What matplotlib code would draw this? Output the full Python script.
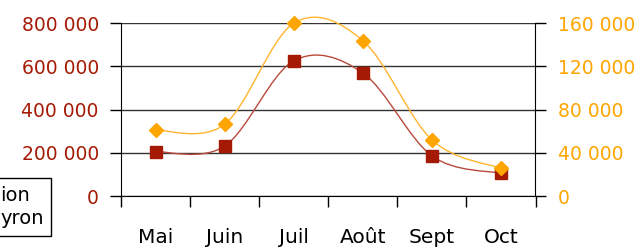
import matplotlib.pyplot as plt
import numpy as np
from matplotlib.path import Path
from matplotlib.patches import PathPatch
from matplotlib.ticker import FuncFormatter

months = ['Mai', 'Juin', 'Juil', 'Août', 'Sept', 'Oct']
left_values = [205000, 231000, 626000, 570000, 186000, 105000]
right_values = [61000, 66500, 160000, 144000, 52000, 25700]
left_ticks = [0, 200000, 400000, 600000, 800000]
right_ticks = [0, 40000, 80000, 120000, 160000]

red = '#A51A05'
red_line = '#B84A3C'
orange = '#FFA500'
orange_line = '#FFB52E'

plt.rcParams['font.family'] = 'DejaVu Sans'


def smooth_path(xs, ys):
    # catmull-rom style curve through the points, as bezier segments
    pts = np.column_stack([xs, ys]).astype(float)
    n = len(pts)
    verts = [pts[0]]
    codes = [Path.MOVETO]
    for i in range(n - 1):
        p0 = pts[max(i - 1, 0)]
        p1 = pts[i]
        p2 = pts[i + 1]
        p3 = pts[min(i + 2, n - 1)]
        verts += [p1 + (p2 - p0) / 6, p2 - (p3 - p1) / 6, p2]
        codes += [Path.CURVE4] * 3
    return Path(verts, codes)


def spaced(v, pos):
    return f"{int(v):,}".replace(",", " ")


fig = plt.figure(figsize=(6.42, 2.48), dpi=100)
ax = fig.add_axes([121 / 642, 1 - 196 / 248, (535.5 - 121) / 642, (196 - 23.3) / 248])
ax2 = ax.twinx()

x = np.arange(len(months))
ax.set_xlim(-0.5, len(months) - 0.5)
ax.set_ylim(0, 800000)
ax2.set_ylim(0, 160000)

ax.add_patch(PathPatch(smooth_path(x, left_values), facecolor='none',
                       edgecolor=red_line, lw=1, clip_on=False))
ax.plot(x, left_values, linestyle='none', marker='s', markersize=8, color=red,
        clip_on=False)

ax2.add_patch(PathPatch(smooth_path(x, right_values), facecolor='none',
                        edgecolor=orange_line, lw=1, clip_on=False))
ax2.plot(x, right_values, linestyle='none', marker='D', markersize=7.5, color=orange,
         clip_on=False)

ax.set_yticks(left_ticks)
ax.yaxis.set_major_formatter(FuncFormatter(spaced))
ax2.set_yticks(right_ticks)
ax2.yaxis.set_major_formatter(FuncFormatter(spaced))

ax.set_xticks(np.arange(-0.5, len(months), 1))
ax.set_xticklabels([])
ax.set_xticks(x, minor=True)
ax.set_xticklabels(months, minor=True)
ax.tick_params(axis='x', which='major', direction='out', length=8, width=1)
ax.tick_params(axis='x', which='minor', length=0, pad=23, labelsize=14.5)

ax.tick_params(axis='y', direction='out', length=8, width=1, pad=8,
               labelsize=13.5, labelcolor=red)
ax2.tick_params(axis='y', direction='out', length=8, width=1, pad=8,
                labelsize=13.5, labelcolor=orange)

ax.yaxis.grid(True, color='#333333', linewidth=1)
ax.set_axisbelow(True)

ax.spines['top'].set_visible(False)
ax.spines['right'].set_visible(False)
ax2.spines['top'].set_visible(False)
ax2.spines['left'].set_visible(False)
ax2.spines['bottom'].set_visible(False)

fig.text(0, 1 - 207 / 248, 'ion\nyron', ha='left', va='center', fontsize=14,
         linespacing=1.25,
         bbox=dict(boxstyle='square,pad=0.4', facecolor='white', edgecolor='black', lw=1))

fig.savefig('out.png', dpi=100)
